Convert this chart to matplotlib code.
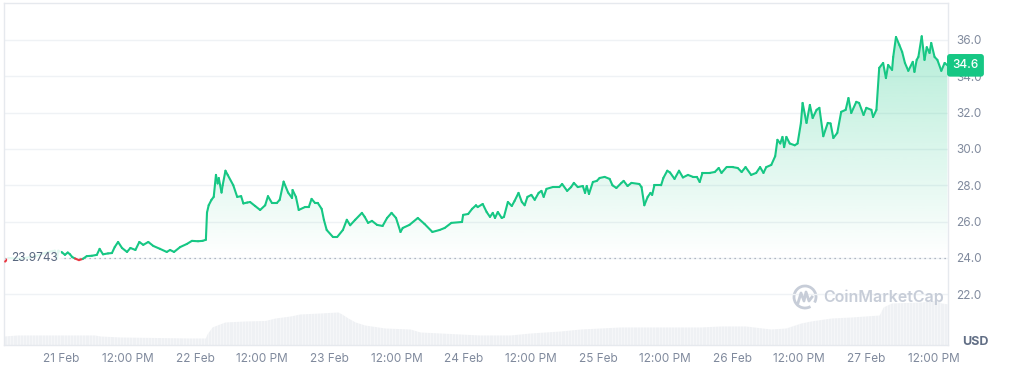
import numpy as np
import matplotlib.pyplot as plt
from matplotlib.collections import LineCollection
from matplotlib.colors import LinearSegmentedColormap
from matplotlib.patches import Arc, Polygon
import matplotlib.transforms as mtransforms

# hours since 21 Feb 00:00 and price in USD
hours = [-10.0, -9.4, -7.3, -4.6, -2.0, -1.1, -0.7, -0.5,
         0.2, 0.7, 1.2, 1.6, 2.0, 2.5, 3.2, 3.9, 4.6, 5.5, 6.4, 6.9, 7.5, 8.4, 9.1, 9.6,
         10.2, 10.9, 11.8, 12.4, 13.3, 14.0, 14.7, 15.6, 16.5, 17.7, 18.9, 19.5, 20.2, 21.3,
         22.5, 23.4, 24.5, 25.3, 25.9, 26.1, 26.4, 26.9, 27.3, 27.7, 28.0, 28.2, 28.7, 28.9,
         29.4, 29.8, 30.8, 31.5, 32.2, 32.6, 33.3, 33.8, 34.7, 35.6, 36.5, 37.0, 37.7, 38.6,
         39.1, 39.8, 40.6, 41.3, 41.4, 42.0, 42.5, 43.6, 44.3, 44.8, 45.4, 45.9, 46.6, 47.0,
         47.5, 48.6, 49.4, 50.4, 51.1, 51.7, 52.6, 53.8, 54.3, 54.9, 55.6, 56.5, 57.5, 58.3,
         59.1, 59.9, 60.7, 61.1, 62.3, 63.8, 65.0, 66.4, 67.7, 68.6, 69.8, 71.7, 71.9, 72.8,
         73.5, 74.2, 74.5, 75.4, 76.1, 76.7, 77.2, 77.6, 78.1, 78.8, 79.2, 79.9, 80.6, 81.1,
         81.8, 82.4, 82.9, 83.4, 84.1, 84.7, 85.4, 85.9, 86.3, 86.8, 87.9, 89.1, 89.6, 90.5,
         91.2, 91.7, 92.4, 93.3, 93.7, 94.0, 94.4, 95.1, 95.8, 96.3, 97.2, 98.1, 98.6, 99.3,
         100.2, 100.6, 101.3, 102.0, 103.4, 103.8, 104.3, 104.9, 105.4, 105.7, 106.1, 107.3,
         107.7, 108.4, 108.9, 109.7, 110.5, 111.2, 112.1, 113.0, 113.7, 114.2, 114.7, 116.0,
         116.9, 117.6, 118.1, 119.0, 120.1, 121.0, 121.7, 122.4, 123.4, 124.3, 125.0, 125.6,
         126.1, 127.0, 127.7, 128.1, 128.6, 129.0, 129.3, 129.7, 130.3, 131.2, 131.7, 132.3,
         132.6, 133.3, 133.9, 134.4, 135.1, 135.6, 136.3, 137.1, 137.6, 138.1, 138.8, 139.5,
         140.3, 140.8, 141.3, 142.2, 142.7, 143.5, 144.0, 144.9, 145.2, 145.8, 146.3, 147.0,
         147.5, 147.9, 148.6, 148.8, 149.3, 149.9, 150.4, 150.9, 151.5, 152.3, 152.6, 153.0,
         153.3, 153.9, 154.4, 154.8, 155.3, 155.6, 156.2, 156.7, 157.4, 158.0, 158.5]
price = [23.8, 24.0, 23.95, 24.1, 24.35, 24.4, 23.95, 24.4,
         24.3, 24.17, 24.3, 24.2, 24.05, 23.97, 23.88, 23.95, 24.1, 24.12, 24.17, 24.5, 24.2, 24.25, 24.27, 24.6,
         24.88, 24.55, 24.33, 24.55, 24.44, 24.88, 24.72, 24.88, 24.66, 24.5, 24.33, 24.44, 24.33, 24.6,
         24.77, 24.94, 24.92, 24.94, 25.0, 26.5, 26.9, 27.2, 27.36, 28.57, 28.1, 28.4, 27.6, 28.0,
         28.8, 28.57, 28.0, 27.36, 27.4, 27.0, 27.05, 27.08, 26.86, 26.64, 26.9, 27.4, 27.03, 27.03,
         27.2, 28.2, 27.6, 27.3, 27.74, 27.36, 26.64, 26.8, 26.8, 27.25, 27.03, 27.03, 26.7, 26.1,
         25.54, 25.16, 25.16, 25.54, 26.1, 25.8, 26.1, 26.48, 26.26, 25.93, 26.04, 25.82, 25.76, 26.2,
         26.48, 26.2, 25.43, 25.65, 25.82, 26.2, 25.87, 25.43, 25.54, 25.65, 25.93, 25.98, 26.37, 26.42,
         26.7, 26.9, 26.8, 26.97, 26.53, 26.26, 26.48, 26.2, 26.53, 26.2, 26.26, 27.08, 26.86, 27.14,
         27.58, 27.08, 26.9, 27.36, 27.47, 27.2, 27.58, 27.69, 27.36, 27.8, 27.9, 27.9, 28.07, 27.69,
         27.9, 28.13, 27.9, 27.96, 27.58, 27.96, 27.52, 28.18, 28.24, 28.4, 28.46, 28.35, 28.0, 27.85,
         28.13, 28.24, 27.96, 28.13, 28.07, 27.9, 26.9, 27.36, 27.58, 27.47, 28.0, 28.0,
         28.4, 28.8, 28.7, 28.35, 28.8, 28.43, 28.57, 28.46, 28.46, 28.18, 28.68, 28.68,
         28.73, 28.95, 28.68, 29.0, 29.0, 28.95, 28.73, 29.0, 28.57, 28.68, 29.0, 28.68,
         29.0, 29.12, 29.6, 30.5, 30.3, 30.66, 30.1, 30.66, 30.3, 30.2, 30.3, 31.43,
         32.53, 31.43, 32.42, 31.7, 32.15, 32.26, 30.7, 31.43, 31.4, 30.6, 30.88, 32.04,
         32.15, 32.8, 31.98, 32.59, 32.53, 31.87, 32.26, 32.15, 31.76, 32.15, 34.46, 34.73,
         33.9, 34.62, 34.35, 35.06, 36.16, 35.72, 35.34, 34.73, 34.3, 34.79, 34.24, 34.9,
         35.06, 36.2, 34.9, 35.6, 35.28, 35.83, 35.06, 34.9, 34.3, 34.73, 34.6]

# volume (relative units)
vol_hours = [-10.2, -7.8, 6.0, 7.0, 10.6, 23.1, 25.8, 26.1, 27.0, 27.9, 29.3, 32.9, 36.5,
             38.3, 41.0, 42.7, 46.3, 49.5, 50.2, 51.3, 52.6, 54.3, 57.9, 62.4, 64.2, 67.8,
             74.9, 80.3, 83.9, 89.3, 92.9, 100.0, 114.3, 117.9, 122.4, 126.9, 129.6, 132.3,
             134.1, 137.7, 141.3, 146.3, 147.0, 148.5, 153.8, 156.5, 157.4, 158.8]
volume = [9, 10, 10, 9, 8, 7, 7, 11, 18, 20, 23, 24, 24.5, 27, 29, 31, 32, 33, 31, 27, 23,
          20, 17, 16, 13, 12, 10, 10, 12, 14, 16, 18, 18, 19, 19, 16, 17, 22, 24, 27, 28,
          30, 38, 42, 43, 45, 42, 41]

tick_hours = [0, 12, 24, 36, 48, 60, 72, 84, 96, 108, 120, 132, 144, 156]
tick_labels = ['21 Feb', '12:00 PM', '22 Feb', '12:00 PM', '23 Feb', '12:00 PM', '24 Feb',
               '12:00 PM', '25 Feb', '12:00 PM', '26 Feb', '12:00 PM', '27 Feb', '12:00 PM']
y_ticks = [22, 24, 26, 28, 30, 32, 34, 36]
open_price = 23.9743
last_price = 34.6

GREEN = '#16c784'
RED = '#ea3943'
GRID = '#eff2f5'
LABEL = '#808a9d'

plt.rcParams['font.family'] = ['Inter', 'DejaVu Sans']

fig = plt.figure(figsize=(10.09, 3.69), dpi=100)
rect = [4 / 1009, 24 / 369, 944 / 1009, 342 / 369]
xlim = (-10.2, 158.6)

# volume underneath
axv = fig.add_axes(rect, zorder=0)
axv.set_xlim(xlim)
axv.set_ylim(0, 342)
axv.fill_between(vol_hours, volume, 0, color='#eff1f4', lw=0)
axv.vlines(np.arange(xlim[0], xlim[1], 0.56), 0, 60, color='white', lw=0.4, alpha=0.7)
axv.axis('off')

ax = fig.add_axes(rect, zorder=1)
ax.patch.set_alpha(0)
ax.set_xlim(xlim)
ax.set_ylim(19.21, 38.03)

for yt in y_ticks:
    ax.axhline(yt, color=GRID, lw=1, zorder=0)

h = np.array(hours)
p = np.array(price)

# gradient fill under the line
top = p.max()
cmap = LinearSegmentedColormap.from_list('g', [(22/255, 199/255, 132/255, 0.0),
                                               (22/255, 199/255, 132/255, 0.32)])
grad = np.linspace(0, 1, 256).reshape(-1, 1)
im = ax.imshow(grad, extent=[h[0], h[-1], open_price, top], origin='lower',
               aspect='auto', cmap=cmap, zorder=1, interpolation='bilinear')
verts = np.vstack([np.column_stack([h, np.maximum(p, open_price)]),
                   [[h[-1], open_price], [h[0], open_price]]])
clip = Polygon(verts, closed=True, transform=ax.transData, fc='none', ec='none')
ax.add_patch(clip)
im.set_clip_path(clip)

ax.axhline(open_price, color='#9aa3b2', lw=0.9, linestyle=(0, (1, 3)), zorder=2)

pts = np.column_stack([h, p])
segs = np.stack([pts[:-1], pts[1:]], axis=1)
mid = (p[:-1] + p[1:]) / 2
cols = [GREEN if m >= open_price else RED for m in mid]
lc = LineCollection(segs, colors=cols, linewidths=1.5, capstyle='round', joinstyle='round', zorder=3)
ax.add_collection(lc)

for s in ax.spines.values():
    s.set_color('#e6e9ee')
    s.set_linewidth(1)

ax.yaxis.tick_right()
ax.set_yticks(y_ticks)
ax.set_yticklabels([f'{v:.1f}' for v in y_ticks])
ax.set_xticks(tick_hours)
ax.set_xticklabels(tick_labels)
ax.tick_params(axis='both', length=0, labelsize=8.5, labelcolor=LABEL)
ax.tick_params(axis='y', pad=6)
ax.tick_params(axis='x', pad=6)

# open price label
ax.text(-9.0, open_price, '23.9743', ha='left', va='center', fontsize=8.5, color='#58667e',
        bbox=dict(boxstyle='square,pad=0.3', fc='white', ec='none', alpha=0.88), zorder=4)

# last price badge
trans = mtransforms.blended_transform_factory(ax.transAxes, ax.transData)
ax.text(1.0185, last_price, f'{last_price:.1f}', transform=trans, ha='center', va='center',
        fontsize=8.5, color='white', fontweight='medium', zorder=5, clip_on=False,
        bbox=dict(boxstyle='round,pad=0.45,rounding_size=0.25', fc=GREEN, ec='none'))

fig.text(975 / 1009, 1 - 342 / 369, 'USD', ha='center', va='center', fontsize=9,
         fontweight='bold', color='#616e85')

# watermark
wm = '#c7cdd8'
logo = Arc((8.05, 0.72), 0.22, 0.22, theta1=-30, theta2=300, transform=fig.dpi_scale_trans,
           color=wm, lw=2)
fig.add_artist(logo)
fig.lines.append(plt.Line2D([7.98, 8.01, 8.04, 8.06, 8.09, 8.12],
                            [0.66, 0.76, 0.68, 0.77, 0.68, 0.72],
                            transform=fig.dpi_scale_trans, color=wm, lw=2))
fig.text(823 / 1009, 1 - 297 / 369, 'CoinMarketCap', ha='left', va='center', fontsize=11.5,
         fontweight='semibold', color=wm)

fig.savefig('out.png', dpi=100)
